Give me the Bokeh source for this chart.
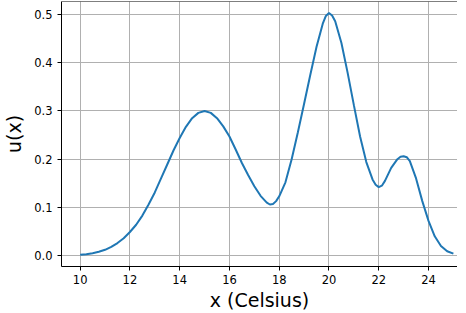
from bokeh.plotting import figure
from bokeh.models import Range1d, FixedTicker, PrintfTickFormatter, Span
from bokeh.embed import file_html
from bokeh.resources import INLINE

# Data
x_vals = [10.0, 10.25, 10.5, 10.75, 11.0, 11.25, 11.5, 11.75, 12.0, 12.25, 12.5, 12.75,
          13.0, 13.25, 13.5, 13.75, 14.0, 14.25, 14.5, 14.75, 15.0, 15.25, 15.5, 15.75,
          16.0, 16.25, 16.5, 16.75, 17.0, 17.25, 17.5, 17.625, 17.75, 17.875, 18.0, 18.25,
          18.5, 18.75, 19.0, 19.25, 19.5, 19.75, 19.875, 20.0, 20.125, 20.25, 20.5, 20.75,
          21.0, 21.25, 21.5, 21.75, 21.875, 22.0, 22.125, 22.25, 22.5, 22.75, 22.875, 23.0,
          23.125, 23.25, 23.5, 23.75, 24.0, 24.25, 24.5, 24.75, 25.0]
u_vals = [0.002, 0.003, 0.005, 0.008, 0.012, 0.018, 0.026, 0.036, 0.049, 0.064, 0.083, 0.106,
          0.131, 0.160, 0.189, 0.218, 0.244, 0.267, 0.285, 0.296, 0.300, 0.296, 0.285, 0.268,
          0.247, 0.220, 0.192, 0.167, 0.144, 0.124, 0.110, 0.106, 0.107, 0.113, 0.123, 0.152,
          0.200, 0.256, 0.315, 0.375, 0.433, 0.481, 0.497, 0.503, 0.498, 0.486, 0.441, 0.379,
          0.312, 0.247, 0.194, 0.158, 0.147, 0.142, 0.145, 0.155, 0.182, 0.200, 0.205, 0.206,
          0.204, 0.196, 0.160, 0.113, 0.072, 0.040, 0.020, 0.009, 0.004]

x_ticks = [10, 12, 14, 16, 18, 20, 22, 24]
y_ticks = [0.0, 0.1, 0.2, 0.3, 0.4, 0.5]

FONT = "DejaVu Sans"
Y_START, Y_END = -0.0226, 0.527

p = figure(frame_width=396, frame_height=265, output_backend="svg", toolbar_location=None,
           x_range=Range1d(9.25, 25.165), y_range=Range1d(Y_START, Y_END),
           min_border_left=59, min_border_right=0, min_border_top=1, min_border_bottom=39)

p.line(x_vals, u_vals, line_color="#1f77b4", line_width=2)

p.outline_line_color = None
p.add_layout(Span(location=Y_END, dimension="width", line_color="black", line_width=1.2))

p.xaxis.ticker = FixedTicker(ticks=x_ticks)
p.yaxis.ticker = FixedTicker(ticks=y_ticks)
p.yaxis.formatter = PrintfTickFormatter(format="%.1f")

for ax in (p.xaxis, p.yaxis):
    ax.axis_line_color = "black"
    ax.axis_line_width = 1
    ax.major_tick_line_color = "black"
    ax.major_tick_out = 4
    ax.major_tick_in = 0
    ax.minor_tick_line_color = None
    ax.major_label_text_font = FONT
    ax.major_label_text_font_size = "11.5px"
    ax.major_label_text_color = "black"
    ax.axis_label_text_font = FONT
    ax.axis_label_text_font_size = "19px"
    ax.axis_label_text_font_style = "normal"
    ax.axis_label_text_color = "black"

p.xaxis.axis_label = "x (Celsius)"
p.yaxis.axis_label = "u(x)"
p.yaxis.axis_label_standoff = 6
p.xaxis.major_label_standoff = 4
p.xaxis.axis_label_standoff = 2

p.xgrid.grid_line_color = "#b0b0b0"
p.ygrid.grid_line_color = "#b0b0b0"
p.xgrid.grid_line_width = 1
p.ygrid.grid_line_width = 1

p.background_fill_color = "white"
p.border_fill_color = "white"

open("out.html", "w").write(file_html(p, INLINE))
